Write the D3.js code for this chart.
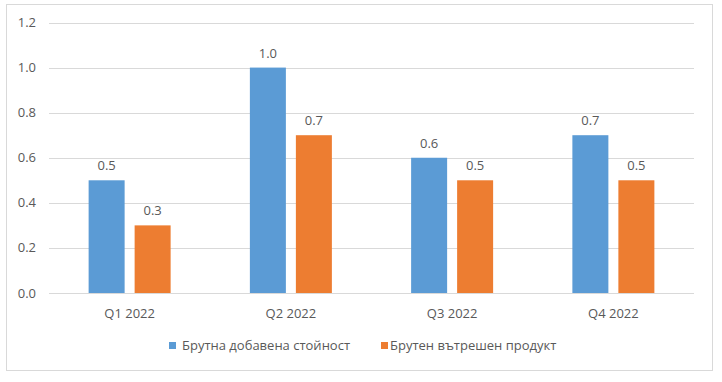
<!DOCTYPE html>
<html><head><meta charset="utf-8">
<script src="https://cdn.jsdelivr.net/npm/d3@7"></script>
<style>body{margin:0;background:#fff}svg{display:block}text{font-family:"Open Sans",sans-serif;fill:#595959}</style>
</head><body>
<svg id="c" width="722" height="382"></svg>
<script>
const categories = ["Q1 2022","Q2 2022","Q3 2022","Q4 2022"];
const seriesNames = ["Брутна добавена стойност","Брутен вътрешен продукт"];
const gva = [0.5,1.0,0.6,0.7];
const gdp = [0.3,0.7,0.5,0.5];
const yTicks = [0,0.2,0.4,0.6,0.8,1.0,1.2];
const colors = ["#5B9BD5","#ED7D31"];

const svg = d3.select("#c");
svg.append("rect").attr("x",6.5).attr("y",4.5).attr("width",706).attr("height",366)
  .attr("fill","#fff").attr("stroke","#D9D9D9");
const L=49,R=694,T=22.5,B=293;
const x = d3.scaleBand().domain(categories).range([L,R]).paddingInner(0).paddingOuter(0);
const y = d3.scaleLinear().domain([0,1.2]).range([B,T]);
const inner = d3.scaleBand().domain([0,1]).range([0,82]).paddingInner(10/46).paddingOuter(0);

const g = svg.append("g");
g.selectAll("line.grid").data(yTicks).join("line").attr("class","grid")
  .attr("x1",L).attr("x2",R).attr("y1",d=>Math.round(y(d))+0.5).attr("y2",d=>Math.round(y(d))+0.5)
  .attr("stroke","#D9D9D9").attr("stroke-width",1);
g.selectAll("text.yt").data(yTicks).join("text").attr("class","yt")
  .attr("x",36).attr("y",d=>y(d)).attr("dy","0.35em").attr("text-anchor","end")
  .attr("font-size",13).text(d=>d3.format(".1f")(d));

const data = [gva,gdp];
data.forEach((arr,si)=>{
  const gg = svg.append("g");
  gg.selectAll("rect").data(arr).join("rect")
    .attr("x",(d,i)=>x(categories[i])+x.bandwidth()/2-41+inner(si))
    .attr("y",d=>y(d)).attr("width",inner.bandwidth()).attr("height",d=>B-y(d))
    .attr("fill",colors[si]);
  gg.selectAll("text").data(arr).join("text")
    .attr("x",(d,i)=>x(categories[i])+x.bandwidth()/2-41+inner(si)+inner.bandwidth()/2)
    .attr("y",d=>y(d)-10).attr("text-anchor","middle").attr("font-size",13)
    .text(d=>d3.format(".1f")(d));
});
svg.selectAll("text.xt").data(categories).join("text").attr("class","xt")
  .attr("x",d=>x(d)+x.bandwidth()/2).attr("y",318).attr("text-anchor","middle")
  .attr("font-size",13).text(d=>d);

const leg = [{x:169,tx:182},{x:381,tx:390}];
seriesNames.forEach((n,i)=>{
  svg.append("rect").attr("x",leg[i].x).attr("y",342).attr("width",7).attr("height",7).attr("fill",colors[i]);
  svg.append("text").attr("x",leg[i].tx).attr("y",350).attr("font-size",13).text(n);
});
</script>
</body></html>
